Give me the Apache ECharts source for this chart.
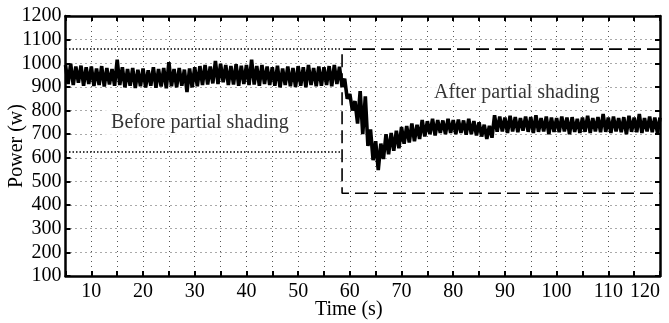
<!DOCTYPE html>
<html>
<head>
<meta charset="utf-8">
<script src="https://cdn.jsdelivr.net/npm/echarts@6/dist/echarts.min.js"></script>
<style>
  html, body { margin: 0; padding: 0; background: #fff; }
  #chart { width: 669px; height: 323px; }
</style>
</head>
<body>
<div id="chart"></div>
<script>
// sampled power, one value every 0.5 s starting at t = 5 s
var startTime = 5;
var sampleStep = 0.5;
var power = [
  993, 912, 998, 908, 986, 918, 990, 905, 983, 912,   // 5
  986, 904, 978, 908, 988, 902, 980, 910, 976, 905,   // 10
  1015, 908, 983, 898, 976, 905, 980, 895, 973, 903,  // 15
  978, 898, 970, 905, 983, 896, 976, 902, 980, 894,   // 20
  1005, 903, 976, 898, 980, 905, 973, 878, 978, 898,  // 25
  983, 903, 988, 908, 993, 910, 986, 915, 1010, 912,  // 30
  998, 920, 993, 908, 988, 910, 996, 905, 990, 912,   // 35
  993, 908, 1015, 910, 988, 905, 993, 912, 986, 908,  // 40
  983, 905, 990, 898, 978, 908, 986, 903, 980, 900,   // 45
  988, 905, 983, 898, 993, 908, 980, 903, 986, 905,   // 50
  983, 908, 988, 903, 993, 912, 985, 900, 935, 850,   // 55
  870, 800, 840, 745, 882, 700, 860, 650, 720, 590,   // 60
  670, 548, 660, 595, 700, 615, 705, 630, 715, 640,   // 65
  730, 660, 735, 665, 745, 670, 740, 680, 760, 690,   // 70
  755, 700, 765, 695, 760, 705, 758, 700, 765, 705,   // 75
  760, 700, 762, 705, 758, 698, 765, 700, 755, 695,   // 80
  750, 690, 740, 680, 735, 685, 780, 710, 775, 712,   // 85
  770, 705, 778, 712, 772, 708, 768, 715, 775, 710,   // 90
  772, 705, 780, 710, 768, 712, 775, 700, 770, 710,   // 95
  768, 708, 775, 712, 770, 700, 772, 710, 765, 705,   // 100
  770, 710, 778, 705, 768, 712, 772, 708, 785, 710,   // 105
  770, 705, 775, 712, 768, 708, 772, 700, 778, 710,   // 110
  770, 708, 785, 705, 768, 712, 775, 708, 770, 705,   // 115
  770                                                 // 120
];

// region boxes [x0, x1, yLow, yHigh]
var beforeBox = [5, 58.5, 625, 1060];
var afterBox = [58.5, 120, 450, 1060];

var labelNames = ['Before partial shading', 'After partial shading'];
var labelPos = [[31, 747], [92.3, 876]];

var xMin = 5, xMax = 120, xStep = 5;
var yMin = 100, yMax = 1200, yStep = 100;

var font = 'Liberation Serif';

var powerData = power.map(function (p, i) { return [startTime + i * sampleStep, p]; });

var chart = echarts.init(document.getElementById('chart'), null, { renderer: 'canvas' });

var tickStyle = { show: true, inside: true, length: 5, lineStyle: { color: '#000', width: 2 } };
var lineAxis = { show: true, lineStyle: { color: '#000', width: 2.5 } };
var gridDots = { show: true, lineStyle: { color: '#555', width: 1, type: [1, 4] } };

var option = {
  animation: false,
  backgroundColor: '#fff',
  grid: { left: 65.5, right: 9, top: 16, bottom: 47, show: false, containLabel: false, outerBoundsMode: 'none' },
  xAxis: [{
    type: 'value', min: xMin, max: xMax, interval: xStep,
    name: 'Time (s)', nameLocation: 'middle', nameGap: 24, nameMoveOverlap: false,
    nameTextStyle: { fontFamily: font, fontSize: 20, color: '#000', padding: [0, 28, 0, 0] },
    axisLine: lineAxis, axisTick: tickStyle,
    axisLabel: {
      fontFamily: font, fontSize: 20, color: '#000', margin: 6, alignMaxLabel: 'right',
      formatter: function (v) { return v % 10 === 0 ? String(v) : ''; }
    },
    splitLine: gridDots
  }, {
    type: 'value', position: 'top', min: xMin, max: xMax, interval: xStep,
    axisLine: lineAxis, axisTick: tickStyle, axisLabel: { show: false }, splitLine: { show: false }
  }],
  yAxis: [{
    type: 'value', min: yMin, max: yMax, interval: yStep,
    name: 'Power (w)', nameLocation: 'middle', nameGap: 39, nameRotate: 90, nameMoveOverlap: false,
    nameTextStyle: { fontFamily: font, fontSize: 20, color: '#000' },
    axisLine: lineAxis, axisTick: tickStyle,
    axisLabel: {
      fontFamily: font, fontSize: 20, color: '#000', margin: 4,
      formatter: function (v) { return String(v); }
    },
    splitLine: gridDots
  }, {
    type: 'value', position: 'right', min: yMin, max: yMax, interval: yStep,
    axisLine: lineAxis, axisTick: tickStyle, axisLabel: { show: false }, splitLine: { show: false }
  }],
  series: [
    {
      type: 'line', data: powerData, showSymbol: false, symbol: 'none',
      lineStyle: { color: '#000', width: 3.6 }, z: 3
    },
    // dotted box (before shading): top and bottom edges
    {
      type: 'line', symbol: 'none', z: 4,
      data: [[beforeBox[0], beforeBox[3]], [beforeBox[1], beforeBox[3]]],
      lineStyle: { color: '#000', width: 1.5, type: [1.5, 2] }
    },
    {
      type: 'line', symbol: 'none', z: 4,
      data: [[beforeBox[0], beforeBox[2]], [beforeBox[1], beforeBox[2]]],
      lineStyle: { color: '#000', width: 1.5, type: [1.5, 2] }
    },
    // dashed box (after shading)
    {
      type: 'line', symbol: 'none', z: 4,
      data: [[afterBox[1], afterBox[3]], [afterBox[0], afterBox[3]], [afterBox[0], afterBox[2]], [afterBox[1], afterBox[2]]],
      lineStyle: { color: '#000', width: 1.6, type: [13, 6] }
    },
    {
      type: 'scatter', symbolSize: 0, z: 5,
      data: labelNames.map(function (n, i) { return { name: n, value: labelPos[i] }; }),
      label: {
        show: true, position: 'inside', formatter: '{b}',
        fontFamily: font, fontSize: 20, color: '#000',
        backgroundColor: '#fff', padding: [3, 6]
      }
    }
  ]
};

chart.setOption(option);
</script>
</body>
</html>
